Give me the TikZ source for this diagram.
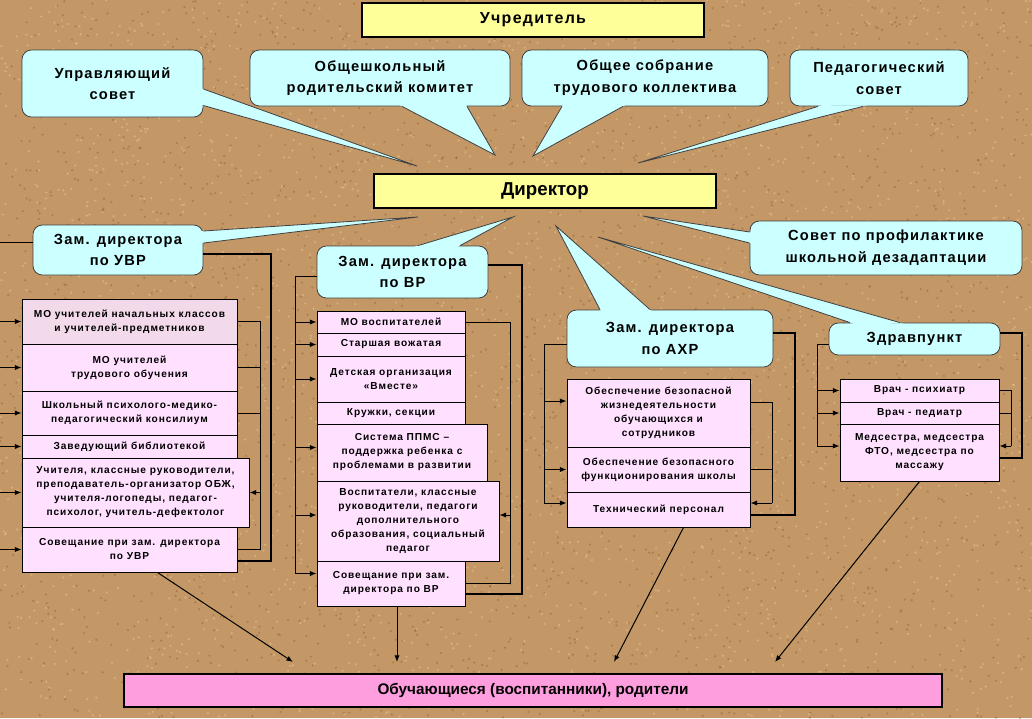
\documentclass[tikz,border=0pt]{standalone}
\usepackage{fontspec}
\setmainfont{Liberation Sans}
\newfontfamily\spfont{Liberation Sans}[LetterSpace=8]
\newfontfamily\smfont{Liberation Sans}[LetterSpace=9]
\usetikzlibrary{calc,arrows.meta}
\definecolor{cork}{RGB}{196,152,102}
\definecolor{corkd}{RGB}{140,92,50}
\definecolor{corkl}{RGB}{230,198,150}
\definecolor{yel}{RGB}{255,255,153}
\definecolor{cya}{RGB}{204,255,255}
\definecolor{pnk}{RGB}{255,224,255}
\definecolor{pnkg}{RGB}{242,218,234}
\definecolor{stud}{RGB}{255,158,222}
\newcommand\fsmall{\smfont\bfseries\fontsize{7.6}{10.5}\selectfont}
\newcommand\fcall{\spfont\bfseries\fontsize{11}{16.3}\selectfont}
\newcommand\fdir{\bfseries\fontsize{14}{16}\selectfont}
\newcommand\ffound{\spfont\bfseries\fontsize{12}{14}\selectfont}
\newcommand\fstud{\bfseries\fontsize{11.5}{14}\selectfont}
\newcommand\callwedge[3]{%
  \fill[cya] (#3) -- ($(#1)!-3pt!(#3)$) -- ($(#2)!-3pt!(#3)$) -- cycle;
  \draw[cedge] (#1) -- (#3) -- (#2);}
\begin{document}
\begin{tikzpicture}[x=0.75pt,y=-0.75pt,
 bx/.style n args={4}{at={({(#1+#3)/2},{(#2+#4)/2})},minimum width={(#3-#1)*0.75pt},minimum height={(#4-#2)*0.75pt}},
 ybox/.style={draw=black,line width=0.9pt,fill=yel,inner sep=0pt},
 cbox/.style={draw=black!75,line width=0.6pt,fill=cya,rounded corners=7pt,inner sep=0pt,align=center,font=\fcall},
 cedge/.style={draw=black!75,line width=0.6pt},
 pbox/.style={draw=black,line width=0.75pt,fill=pnk,inner sep=0pt,align=center,font=\fsmall},
 thinl/.style={line width=0.75pt},
 thickl/.style={line width=2pt},
 arr/.style={line width=0.75pt,-{Latex[length=5pt,width=4pt]}},
]
\useasboundingbox (0,0) rectangle (1032,718);
\begin{scope}
\clip (0,0) rectangle (1032,718);
\fill[cork] (0,0) rectangle (1032,718);
\pgfmathsetseed{7}
\foreach \i in {1,...,2600}{\fill[corkd,opacity=0.45] ({rnd*1032},{rnd*718}) circle (0.9pt);}
\foreach \i in {1,...,2600}{\fill[corkl,opacity=0.55] ({rnd*1032},{rnd*718}) circle (0.9pt);}

% top level
\node[ybox,bx={362}{3}{704}{37},font=\ffound] (found) {Учредитель};
\node[ybox,bx={374}{174}{716}{208},font=\fdir] (dir) {Директор};

% top callouts
\node[cbox,bx={22}{50}{203}{117}] (us) {Управляющий\\совет};
\node[cbox,bx={250}{50}{510}{106}] (ok) {Общешкольный\\родительский комитет};
\node[cbox,bx={522}{50}{768}{106}] (os) {Общее собрание\\трудового коллектива};
\node[cbox,bx={790}{50}{968}{106}] (ps) {Педагогический\\совет};

\coordinate (usa) at ($(us.east)+(0,5.5)$);  \coordinate (usb) at ($(us.east)+(0,22)$);  \coordinate (ust) at (417,166);
\coordinate (oka) at ($(ok.south)+(22,0)$);  \coordinate (okb) at ($(ok.south)+(87,0)$);  \coordinate (okt) at (495,155);
\coordinate (osa) at ($(os.south)+(-83,0)$); \coordinate (osb) at ($(os.south)+(-22,0)$); \coordinate (ost) at (533,156);
\coordinate (psa) at ($(ps.south)+(-61,0)$); \coordinate (psb) at ($(ps.south)+(-16,0)$); \coordinate (pst) at (638,163);
\callwedge{usa}{usb}{ust}
\callwedge{oka}{okb}{okt}
\callwedge{osa}{osb}{ost}
\callwedge{psa}{psb}{pst}

% deputies callouts
\node[cbox,bx={33}{225}{203}{275}] (zu) {Зам. директора\\по УВР};
\node[cbox,bx={317}{246}{488}{298}] (zv) {Зам. директора\\по ВР};
\node[cbox,bx={567}{310}{773}{367}] (za) {Зам. директора\\по АХР};
\node[cbox,bx={750}{221}{1022}{275}] (sp) {Совет по профилактике\\школьной дезадаптации};
\node[cbox,bx={829}{323}{1000}{355}] (zd) {Здравпункт};

\coordinate (zua) at ($(zu.east)+(0,-19)$);  \coordinate (zub) at ($(zu.east)+(0,-7)$);  \coordinate (zut) at (418,217);
\coordinate (zva) at ($(zv.north)+(15.5,0)$); \coordinate (zvb) at ($(zv.north)+(57.5,0)$); \coordinate (zvt) at (513,217);
\coordinate (zaa) at ($(za.north)+(-70,0)$); \coordinate (zab) at ($(za.north)+(-20,0)$); \coordinate (zat) at (556,226);
\coordinate (spa) at ($(sp.west)+(0,-16)$);  \coordinate (spb) at ($(sp.west)+(0,-5)$);  \coordinate (spt) at (643,216);
\coordinate (zda) at ($(zd.north)+(-64.5,0)$); \coordinate (zdb) at ($(zd.north)+(-14.5,0)$); \coordinate (zdt) at (598,237);
\callwedge{zua}{zub}{zut}
\callwedge{zva}{zvb}{zvt}
\callwedge{zaa}{zab}{zat}
\callwedge{spa}{spb}{spt}
\callwedge{zda}{zdb}{zdt}

% UVR column
\node[pbox,fill=pnkg,bx={22}{299}{237}{344}] (u1) {МО учителей начальных классов\\и учителей-предметников};
\node[pbox,bx={22}{344}{237}{391}] (u2) {МО учителей\\трудового обучения};
\node[pbox,bx={22}{391}{237}{435}] (u3) {Школьный психолого-медико-\\педагогический консилиум};
\node[pbox,bx={22}{435}{237}{458}] (u4) {Заведующий библиотекой};
\node[pbox,bx={22}{527}{237}{572}] (u6) {Совещание при зам. директора\\по УВР};
\node[pbox,bx={22}{458}{249}{527}] (u5) {Учителя, классные руководители,\\преподаватель-организатор ОБЖ,\\учителя-логопеды, педагог-\\психолог, учитель-дефектолог};

% VR column
\node[pbox,bx={317}{311}{465}{333}] (v1) {МО воспитателей};
\node[pbox,bx={317}{333}{465}{356}] (v2) {Старшая вожатая};
\node[pbox,bx={317}{356}{465}{402}] (v3) {Детская организация\\«Вместе»};
\node[pbox,bx={317}{402}{465}{424}] (v4) {Кружки, секции};
\node[pbox,bx={317}{561}{465}{606}] (v7) {Совещание при зам.\\директора по ВР};
\node[pbox,bx={317}{424}{487}{481}] (v5) {Система ППМС –\\поддержка ребенка с\\проблемами в развитии};
\node[pbox,bx={317}{481}{499}{561}] (v6) {Воспитатели, классные\\руководители, педагоги\\дополнительного\\образования, социальный\\педагог};

% AHR column
\node[pbox,bx={567}{379}{750}{447}] (a1) {Обеспечение безопасной\\жизнедеятельности\\обучающихся и\\сотрудников};
\node[pbox,bx={567}{447}{750}{492}] (a2) {Обеспечение безопасного\\функционирования школы};
\node[pbox,bx={567}{492}{750}{527}] (a3) {Технический персонал};

% Health column
\node[pbox,bx={840}{379}{999}{402}] (h1) {Врач - психиатр};
\node[pbox,bx={840}{402}{999}{424}] (h2) {Врач - педиатр};
\node[pbox,bx={840}{424}{999}{481}] (h3) {Медсестра, медсестра\\ФТО, медсестра по\\массажу};

% students
\node[draw=black,line width=0.9pt,fill=stud,inner sep=0pt,font=\fstud,bx={124}{674}{942}{707}] (st) {Обучающиеся (воспитанники), родители};

% ---- connectors UVR
\coordinate (uL) at (-4,242);
\draw[thinl] ($(zu.west)+(0,-8)$) -- (uL) -- (uL |- u6.west);
\foreach \n in {u1,u2,u3,u4,u5,u6}{\draw[arr] (uL |- \n.west) -- (\n.west);}
\coordinate (uR) at (260,323);
\draw[thinl] (u1.east) -- (uR |- u1.east) -- (uR |- u6.east) -- (u6.east);
\draw[thinl] (u2.east) -- (uR |- u2.east);
\draw[thinl] (u3.east) -- (uR |- u3.east);
\draw[arr] (uR |- u5.east) -- (u5.east);
\coordinate (uT) at (271,254); \coordinate (uTb) at (271,561);
\draw[thickl] (zu.east |- uT) -- (uT) -- (uTb) -- (u6.east |- uTb);

% ---- connectors VR
\coordinate (vL) at (295,276);
\coordinate (v5p) at ($(v5.west)+(0,-5)$);
\coordinate (v6p) at ($(v6.west)+(0,-6)$);
\coordinate (v7p) at ($(v7.west)+(0,-10)$);
\draw[thinl] (zv.west |- vL) -- (vL) -- (vL |- v7p);
\foreach \n in {v1,v2,v3}{\draw[arr] (vL |- \n.west) -- (\n.west);}
\foreach \n in {v5p,v6p,v7p}{\draw[arr] (vL |- \n) -- (\n);}
\coordinate (vR) at (510,323);
\coordinate (v6q) at ($(v6.east)+(0,-6)$);
\draw[thinl] (v1.east) -- (vR |- v1.east) -- (vR |- v7.east) -- (v7.east);
\draw[arr] (vR |- v6q) -- (v6q);
\coordinate (vT) at (522,265); \coordinate (vTb) at (522,594);
\draw[thickl] (zv.east |- vT) -- (vT) -- (vTb) -- (v7.east |- vTb);

% ---- connectors AHR
\coordinate (aL) at (544,344);
\coordinate (a1p) at ($(a1.west)+(0,-12)$);
\coordinate (a3p) at ($(a3.west)+(0,-6.5)$);
\draw[thinl] (za.west |- aL) -- (aL) -- (aL |- a3p);
\draw[arr] (aL |- a1p) -- (a1p);
\draw[arr] (aL |- a2.west) -- (a2.west);
\draw[arr] (aL |- a3p) -- (a3p);
\coordinate (aR) at (772,402);
\coordinate (a1q) at ($(a1.east)+(0,-11)$);
\coordinate (a3q) at ($(a3.east)+(0,-6.5)$);
\draw[thinl] (a1q) -- (aR |- a1q) -- (aR |- a3q);
\draw[thinl] (a2.east) -- (aR |- a2.east);
\draw[arr] (aR |- a3q) -- (a3q);
\coordinate (aT) at (795,333); \coordinate (aTb) at (795,515);
\draw[thickl] (za.east |- aT) -- (aT) -- (aTb) -- (a3.east |- aTb);

% ---- connectors Health
\coordinate (hL) at (817,344);
\coordinate (h3p) at ($(h3.west)+(0,-6.5)$);
\draw[thinl] (zd.west |- hL) -- (hL) -- (hL |- h3p);
\draw[arr] (hL |- h1.west) -- (h1.west);
\draw[arr] (hL |- h2.west) -- (h2.west);
\draw[arr] (hL |- h3p) -- (h3p);
\coordinate (hR) at (1011,390);
\coordinate (h3q) at ($(h3.east)+(0,-6.5)$);
\draw[thinl] (h1.east) -- (hR |- h1.east) -- (hR |- h3q);
\draw[thinl] (h2.east) -- (hR |- h2.east);
\draw[arr] (hR |- h3q) -- (h3q);
\coordinate (hT) at (1022,333); \coordinate (hTb) at (1022,458);
\draw[thickl] (zd.east |- hT) -- (hT) -- (hTb) -- (h3.east |- hTb);

% ---- to students
\coordinate (t1) at (293,662);
\coordinate (t2) at (397,662);
\coordinate (t3) at (614,662);
\coordinate (t4) at (775,662);
\draw[arr] ($(u6.south)+(28,0)$) -- (t1);
\draw[arr] ($(v7.south)+(6,0)$) -- (t2);
\draw[arr] ($(a3.south)+(25,0)$) -- (t3);
\draw[arr] (h3.south) -- (t4);
\end{scope}
\end{tikzpicture}
\end{document}
